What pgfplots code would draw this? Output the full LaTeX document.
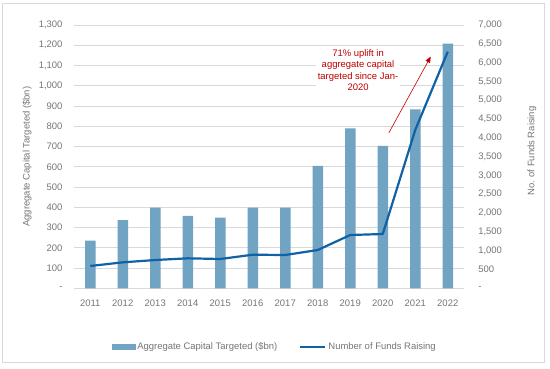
\documentclass[border=0pt]{standalone}
\usepackage{pgfplots}
\pgfplotsset{compat=1.18}
\usepackage{fontspec}
\setmainfont{Liberation Sans}
\usetikzlibrary{arrows.meta}
\definecolor{barc}{RGB}{113,163,194}
\definecolor{linec}{RGB}{16,98,165}
\definecolor{gridc}{RGB}{217,217,217}
\definecolor{txt}{RGB}{118,118,118}
\definecolor{anno}{RGB}{192,0,0}
\newcommand{\cf}{\fontsize{9.5}{11.5}\selectfont}
\pgfplotsset{
  barlegend/.style={legend image code/.code={\fill[barc] (0bp,-2.5bp) rectangle (23bp,2.5bp);}},
  linelegend/.style={legend image code/.code={\draw[linec, line width=2.2bp] (0bp,0bp) -- (25bp,0bp);}},
  common/.style={
    at={(74bp,80.7bp)}, anchor=south west,
    scale only axis, width=390bp, height=263.3bp,
    xmin=-0.5, xmax=11.5,
    axis line style={draw=none}, tick style={draw=none},
    tick label style={font=\cf, text=txt},
    label style={font=\cf, text=txt},
  }
}
\begin{document}
\begin{tikzpicture}
\fill[white] (0bp,0bp) rectangle (550bp,369bp);
\draw[gridc, line width=0.75bp] (2.3bp,6.3bp) rectangle (544.3bp,365.7bp);
\begin{axis}[common,
  ymin=0, ymax=1300,
  ybar, bar width=10.5bp,
  xtick={0,...,11},
  xticklabels={2011,2012,2013,2014,2015,2016,2017,2018,2019,2020,2021,2022},
  xticklabel style={yshift=-4bp},
  ytick={0,100,...,1300},
  yticklabels={-,100,200,300,400,500,600,700,800,900,{1,000},{1,100},{1,200},{1,300}},
  yticklabel style={xshift=-8bp},
  ymajorgrids, grid style={gridc, line width=0.75bp},
  ylabel={Aggregate Capital Targeted (\$bn)},
  ylabel style={at={(axis description cs:-0.1205,0.5)}, anchor=center},
]
\addplot[fill=barc, draw=none] coordinates {
 (0,235) (1,336) (2,398) (3,358) (4,349) (5,398) (6,398) (7,605) (8,790) (9,703) (10,884) (11,1208)
};
\node[fill=white, text=anno, align=center, font=\cf, inner sep=2bp] at (axis cs:8.24,1078)
 {71\% uplift in\\aggregate capital\\targeted since Jan-\\2020};
\draw[anno, line width=0.6bp, -{Triangle[length=6bp,width=5bp]}] (axis cs:9.19,768) -- (axis cs:10.475,1144);
\end{axis}
\begin{axis}[common,
  ymin=0, ymax=7000,
  axis y line*=right, axis x line=none,
  xtick=\empty,
  ytick={0,500,...,7000},
  yticklabels={-,500,{1,000},{1,500},{2,000},{2,500},{3,000},{3,500},{4,000},{4,500},{5,000},{5,500},{6,000},{6,500},{7,000}},
  yticklabel style={xshift=10.8bp},
  ylabel={No. of Funds Raising},
  ylabel style={at={(axis description cs:1.174,0.521)}, anchor=center},
  legend style={at={(0.515,-0.222)}, anchor=center, draw=none, fill=none,
    font=\cf, text=txt, legend columns=2,
    /tikz/every even column/.append style={column sep=20bp}},
]
\addlegendimage{barlegend}
\addlegendentry{Aggregate Capital Targeted (\$bn)}
\addplot[linec, line width=2.2bp, line join=round, mark=none, linelegend] coordinates {
 (0,593) (1,690) (2,752) (3,797) (4,779) (5,893) (6,885) (7,1018) (8,1417) (9,1443) (10,4210) (11,6290)
};
\addlegendentry{Number of Funds Raising}
\end{axis}
\end{tikzpicture}
\end{document}
